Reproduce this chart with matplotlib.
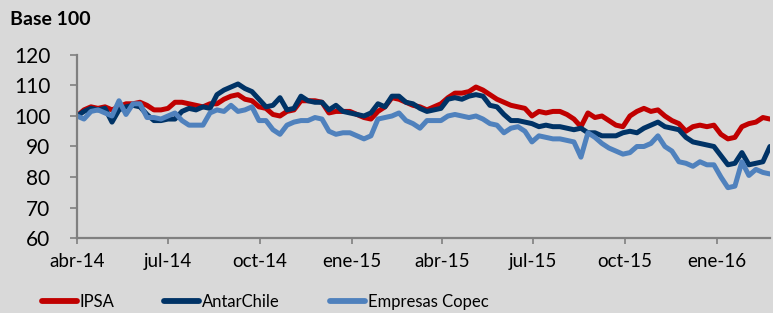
import matplotlib
matplotlib.use("Agg")
import matplotlib.pyplot as plt
import pandas as pd

# weekly readings, starting 1 Apr 2014 (base 100)
start_date = "2014-04-01"

ipsa = [100, 102, 103, 102.5, 103, 102, 103, 104, 104, 104.5,
        103.5, 102, 102, 102.5, 104.5, 104.5, 104, 103.5, 103, 104,
        104, 105.5, 106.5, 107, 105.5, 105, 103, 102.5, 100.5, 100,
        101.5, 102, 105, 105, 105, 104.5, 101, 101.5, 101.5, 101.5,
        100.5, 99.5, 99, 101.5, 103, 106, 105.5, 104.5, 103.5, 103,
        102, 103, 104, 106, 107.5, 107.5, 108, 109.5, 108.5, 107,
        105.5, 104.5, 103.5, 103, 102.5, 100, 101.5, 101, 101.5, 101.5,
        100.5, 99, 96.5, 101, 99.5, 100, 98.5, 97, 96.5, 100,
        101.5, 102.5, 101.5, 102, 100, 98.5, 97.5, 95, 96.5, 97,
        96.5, 97, 94, 92.5, 93, 96.5, 97.5, 98, 99.5, 99]

antarchile = [100, 101.5, 102.5, 102, 102.5, 98, 102, 103, 103.5, 103,
              100.5, 98.5, 98.5, 99, 99, 101.5, 102.5, 102, 103, 102.5,
              107, 108.5, 109.5, 110.5, 109, 108, 105.5, 103, 103.5, 106,
              102, 102.5, 106.5, 105, 104.5, 104.5, 102, 103.5, 101.5, 101,
              100.5, 100, 101, 104, 103, 106.5, 106.5, 104.5, 104, 102.5,
              101.5, 102, 102.5, 105.5, 106, 105.5, 106.5, 107, 106.5, 103.5,
              103, 100.5, 98.5, 98.5, 98, 97.5, 96.5, 97, 96.5, 96.5,
              96, 95.5, 96, 94.5, 94.5, 93.5, 93.5, 93.5, 94.5, 95,
              94.5, 96, 97, 98, 96.5, 96, 95.5, 93, 91.5, 91,
              90.5, 90, 87, 84, 84.5, 88, 84, 84.5, 85, 90]

copec = [100, 99, 101.5, 102, 101, 100, 105, 100.5, 104, 104,
         99.5, 99.5, 99, 100, 101, 98.5, 97, 97, 97, 101,
         102, 101.5, 103.5, 101.5, 102, 103, 98.5, 98.5, 95.5, 94,
         97, 98, 98.5, 98.5, 99.5, 99, 95, 94, 94.5, 94.5,
         93.5, 92.5, 93.5, 99, 99.5, 100, 101, 98.5, 97.5, 96,
         98.5, 98.5, 98.5, 100, 100.5, 100, 99.5, 100, 99, 97.5,
         97, 94.5, 96, 96.5, 95, 91.5, 93.5, 93, 92.5, 92.5,
         92, 91.5, 86.5, 94.5, 93, 91, 89.5, 88.5, 87.5, 88,
         90, 90, 91, 93.5, 90, 88.5, 85, 84.5, 83.5, 85,
         84, 84, 80, 76.5, 77, 85, 80.5, 82.5, 81.5, 81]

series_names = ["IPSA", "AntarChile", "Empresas Copec"]
series_colors = ["#C00000", "#003366", "#4F81BD"]

tick_dates = ["2014-04-01", "2014-07-01", "2014-10-01", "2015-01-01",
              "2015-04-01", "2015-07-01", "2015-10-01", "2016-01-01"]
tick_labels = ["abr-14", "jul-14", "oct-14", "ene-15",
               "abr-15", "jul-15", "oct-15", "ene-16"]
y_ticks = [60, 70, 80, 90, 100, 110, 120]

dates = pd.date_range(start_date, periods=len(ipsa), freq="7D")

bg = "#D9D9D9"
axis_color = "#808080"

fig = plt.figure(figsize=(7.73, 3.13), dpi=100, facecolor=bg)
ax = fig.add_axes([0.0996, 0.2396, 0.8964, 0.5847], facecolor=bg)

for vals, name, color in zip([ipsa, antarchile, copec], series_names, series_colors):
    ax.plot(dates, vals, color=color, linewidth=3.6, label=name,
            solid_joinstyle="round", solid_capstyle="round")

ax.set_ylim(60, 120)
ax.set_yticks(y_ticks)
ax.set_xlim(dates[0], dates[-1])
ax.set_xticks(pd.to_datetime(tick_dates))
ax.set_xticklabels(tick_labels)

for side in ["top", "right"]:
    ax.spines[side].set_visible(False)
for side in ["left", "bottom"]:
    ax.spines[side].set_color(axis_color)
    ax.spines[side].set_linewidth(1.6)

ax.tick_params(axis="y", direction="out", length=5, width=1.2, color=axis_color,
               pad=14, labelsize=15, labelcolor="black")
ax.tick_params(axis="x", direction="out", length=4, width=1.2, color=axis_color,
               pad=7, labelsize=13.5, labelcolor="black")
for lbl in ax.get_yticklabels() + ax.get_xticklabels():
    lbl.set_family("Lato")

fig.text(0.013, 0.938, "Base 100", fontsize=14, fontweight="bold",
         family="Lato", va="center", ha="left")

# legend under the axis, one row
leg = fig.legend(loc="center left", bbox_to_anchor=(0.043, 0.035), ncol=3,
                 frameon=False, handlelength=2.1, handletextpad=0.18,
                 columnspacing=3.0, borderpad=0,
                 prop={"family": "Lato", "size": 12})
for line in leg.get_lines():
    line.set_linewidth(4.2)

fig.savefig("out.png", dpi=100, facecolor=bg)
